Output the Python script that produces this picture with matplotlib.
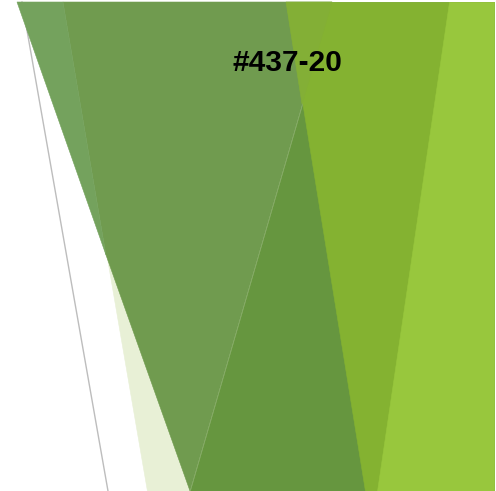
import matplotlib
matplotlib.use("Agg")
import matplotlib.pyplot as plt
from matplotlib.patches import Polygon

W, H = 496, 491

# Decorative facet shapes (x, y in pixel-like units, y downward)
pale_shape = [(63, 2), (494, 2), (494, 491), (147, 491)]
dark_shape = [(332, 2), (494, 2), (494, 491), (190, 491)]
tri_over_pale = [(63, 2), (332, 2), (190, 491), (106, 255)]
tri_over_white = [(17, 2), (63, 2), (106, 255)]
bright_shape = [(286, 2), (494, 2), (494, 491), (365, 491)]
bright_over_tri = [(286, 2), (332, 2), (302, 104)]
light_shape = [(449, 2), (494, 2), (494, 491), (377, 491)]
gray_line_x = [22, 108]
gray_line_y = [2, 491]

shapes = [
    (pale_shape, "#E8F0D6"),
    (dark_shape, "#66963F"),
    (tri_over_pale, "#709B4F"),
    (tri_over_white, "#74A25D"),
    (bright_shape, "#84B231"),
    (bright_over_tri, "#83AF36"),
    (light_shape, "#98C73D"),
]

title_text = "#437-20"

fig = plt.figure(figsize=(W / 100, H / 100), dpi=100)
ax = fig.add_axes([0, 0, 1, 1])
ax.set_xlim(0, W)
ax.set_ylim(H, 0)
ax.axis("off")
fig.patch.set_facecolor("white")

ax.plot(gray_line_x, gray_line_y, color="#BDBDBD", lw=1.0, zorder=1)

for i, (pts, col) in enumerate(shapes):
    ax.add_patch(Polygon(pts, closed=True, facecolor=col, edgecolor=col,
                         linewidth=0.4, zorder=2 + i, antialiased=True))

ax.text(287, 63, title_text, ha="center", va="center", fontsize=21.5,
        fontweight="bold", family=["Liberation Sans", "DejaVu Sans"],
        color="black", zorder=20)

fig.savefig("out.png", dpi=100)
